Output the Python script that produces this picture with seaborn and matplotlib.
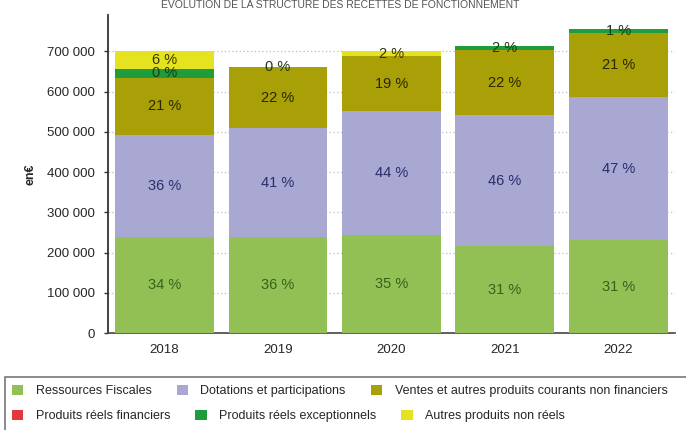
import numpy as np
import pandas as pd
import seaborn as sns
import matplotlib.pyplot as plt
from matplotlib.patches import Patch, Rectangle
from matplotlib.ticker import FuncFormatter

# values in euros
years = ["2018", "2019", "2020", "2021", "2022"]
fiscales = [239000, 238000, 244000, 216000, 232000]
dotations = [254000, 272000, 308000, 326000, 354000]
ventes = [141000, 150000, 136000, 160000, 160000]
financiers = [0, 0, 0, 0, 0]
exceptionnels = [23000, 2000, 0, 10000, 10000]
autres = [43000, 0, 12000, 0, 0]

# percentage labels as printed on the chart
lab_fiscales = ["34 %", "36 %", "35 %", "31 %", "31 %"]
lab_dotations = ["36 %", "41 %", "44 %", "46 %", "47 %"]
lab_ventes = ["21 %", "22 %", "19 %", "22 %", "21 %"]
lab_exceptionnels = ["0 %", "0 %", None, "2 %", "1 %"]
lab_autres = ["6 %", None, "2 %", None, None]

names = ["Ressources Fiscales", "Dotations et participations",
         "Ventes et autres produits courants non financiers",
         "Produits réels financiers", "Produits réels exceptionnels",
         "Autres produits non réels"]
colors = ["#92c055", "#a9a8d3", "#a99f06", "#e23a3a", "#1f9d3c", "#e5e21f"]
text_colors = ["#35631a", "#2c2c6a", "#2a2600", "#2a2600", "#1d3a12", "#3a3400"]

series = [fiscales, dotations, ventes, financiers, exceptionnels, autres]
labels = [lab_fiscales, lab_dotations, lab_ventes, [None] * 5, lab_exceptionnels, lab_autres]

sns.set_style("white")
plt.rcParams["font.family"] = ["Liberation Sans", "DejaVu Sans"]

fig = plt.figure(figsize=(6.86, 4.30), dpi=100)
ax = fig.add_axes([0.157, 0.225, 0.827, 0.74])

vals = np.array(series, dtype=float)
cum = vals.cumsum(axis=0)

# stacked bars: draw cumulative totals from the top layer down
for i in range(len(series) - 1, -1, -1):
    df = pd.DataFrame({"annee": years, "valeur": cum[i]})
    sns.barplot(data=df, x="annee", y="valeur", color=colors[i], width=0.87,
                saturation=1, linewidth=0, ax=ax, zorder=3)

# percentage labels centred in each segment
for i in range(len(series)):
    for j in range(len(years)):
        lab = labels[i][j]
        if lab is None:
            continue
        mid = cum[i][j] - vals[i][j] / 2
        ax.text(j, mid, lab, ha="center", va="center", fontsize=10.5,
                color=text_colors[i], zorder=5)

ax.set_ylim(0, 790000)
ax.set_xlim(-0.5, 4.5)
ax.set_yticks(range(0, 700001, 100000))
ax.yaxis.set_major_formatter(FuncFormatter(lambda v, p: f"{v:,.0f}".replace(",", " ")))
ax.yaxis.grid(True, linestyle=(0, (1, 2)), color="#bdbdbd", linewidth=0.9)
ax.set_axisbelow(True)
ax.set_xlabel("")
ax.set_ylabel("en€", fontsize=9, fontweight="bold", labelpad=8)
ax.tick_params(axis="y", length=3, width=1, color="#333333", labelsize=9.5, pad=6, left=True)
ax.tick_params(axis="x", length=0, labelsize=9.5, pad=8)

for s in ["top", "right"]:
    ax.spines[s].set_visible(False)
ax.spines["left"].set_color("#333333")
ax.spines["left"].set_linewidth(1.3)
ax.spines["bottom"].set_color("#444444")
ax.spines["bottom"].set_linewidth(1.2)

# title at the very top
fig.text(0.496, 0.999, "EVOLUTION DE LA STRUCTURE DES RECETTES DE FONCTIONNEMENT",
         ha="center", va="top", fontsize=7.5, color="#555555")

# legend: two rows that flow like the original, inside one shared frame
handles = [Patch(facecolor=c, edgecolor="none", label=n) for c, n in zip(colors, names)]
rows = [(handles[:3], 1 - 391 / 430), (handles[3:], 1 - 416 / 430)]
for hs, y in rows:
    fig.legend(handles=hs, ncol=3, loc="center left", bbox_to_anchor=(0.0175, y),
               fontsize=9, frameon=False, handlelength=0.9, handleheight=0.9,
               handletextpad=1.0, columnspacing=2.0, borderpad=0, borderaxespad=0)
fig.add_artist(Rectangle((0.007, -0.05), 1.0, 0.05 + 1 - 377 / 430,
                         transform=fig.transFigure, fill=False,
                         edgecolor="#777777", linewidth=1.2))

fig.savefig("out.png", dpi=100)
